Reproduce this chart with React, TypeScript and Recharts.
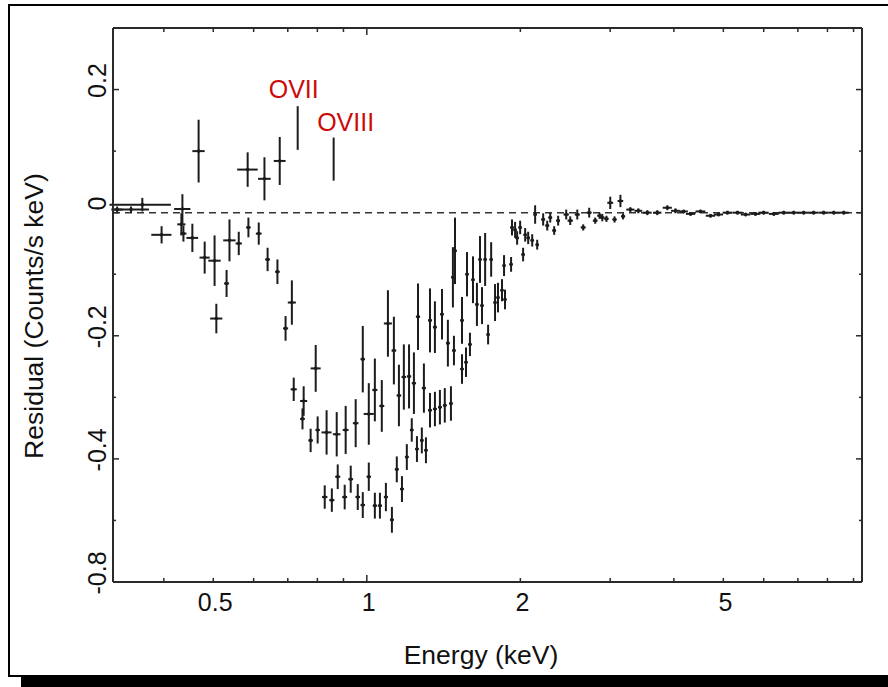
import React from 'react';
import { ScatterChart, Scatter, XAxis, YAxis, ErrorBar, ReferenceLine } from 'recharts';

// ---- data (energy in keV, residual in counts/s/keV) ----
const energyKeV = [
  // soft band
  0.324, 0.345, 0.363, 0.396, 0.433, 0.435, 0.437, 0.455, 0.468, 0.481, 0.503, 0.507,
  0.531, 0.538, 0.561, 0.584, 0.586, 0.614, 0.630, 0.639, 0.668, 0.675, 0.693, 0.713,
  // upper trough
  0.719, 0.748, 0.752, 0.776, 0.794, 0.801, 0.834, 0.873, 0.909, 0.951, 0.982, 1.009,
  1.037, 1.070, 1.100, 1.130, 1.156, 1.182, 1.210, 1.237, 1.260, 1.294, 1.330, 1.360,
  1.404, 1.442, 1.482, 1.330, 1.360, 1.391, 1.422, 1.462, 1.537, 1.565, 1.593,
  // lower trough
  0.827, 0.854, 0.877, 0.905, 0.930, 0.960, 0.982, 1.009, 1.037, 1.061, 1.090, 1.120,
  1.145, 1.172, 1.198, 1.225, 1.254, 1.282, 1.306,
  // recovery
  1.489, 1.475, 1.537, 1.572, 1.615, 1.644, 1.667, 1.682, 1.706, 1.729, 1.753, 1.784,
  1.808, 1.841, 1.858, 1.866, 1.918, 1.926, 1.953, 1.971, 1.998, 2.025, 2.044, 2.072,
  2.110, 2.138, 2.158, 2.217, 2.258, 2.289, 2.330, 2.372, 2.460, 2.505, 2.586, 2.656,
  2.729, 2.804, 2.860, 2.895, 2.950, 3.001, 3.060, 3.142, 3.180,
  // hard tail
  3.286, 3.407, 3.548, 3.711, 3.883, 4.029, 4.180, 4.313, 4.510, 4.719, 4.893, 5.094,
  5.329, 5.530, 5.781, 5.997, 6.280, 6.567, 6.871, 7.187, 7.516, 7.865, 8.232, 8.611,
];

const residual = [
  0.005, 0.005, 0.013, -0.036, -0.019, 0.006, -0.034, -0.041, 0.100, -0.073, -0.078, -0.172,
  -0.115, -0.045, -0.050, 0.070, -0.024, -0.034, 0.055, -0.076, -0.096, 0.084, -0.188, -0.146,
  -0.287, -0.335, -0.306, -0.370, -0.253, -0.353, -0.357, -0.360, -0.353, -0.342, -0.238, -0.327,
  -0.288, -0.314, -0.180, -0.224, -0.297, -0.267, -0.266, -0.277, -0.169, -0.285, -0.175, -0.186,
  -0.165, -0.212, -0.224, -0.321, -0.319, -0.316, -0.313, -0.310, -0.254, -0.243, -0.214,
  -0.462, -0.467, -0.429, -0.462, -0.433, -0.462, -0.475, -0.429, -0.476, -0.476, -0.462, -0.499,
  -0.417, -0.449, -0.397, -0.353, -0.384, -0.370, -0.386,
  -0.062, -0.105, -0.175, -0.100, -0.109, -0.149, -0.076, -0.151, -0.076, -0.198, -0.076, -0.146,
  -0.138, -0.126, -0.086, -0.141, -0.084, -0.024, -0.028, -0.041, -0.024, -0.068, -0.036, -0.041,
  -0.045, -0.003, -0.052, -0.011, -0.021, -0.008, -0.029, -0.013, -0.003, -0.013, -0.003, -0.024,
  0.000, -0.013, -0.005, -0.008, -0.010, 0.016, -0.011, 0.019, -0.006,
  0.005, 0.003, 0.000, 0.000, 0.008, 0.003, 0.002, -0.002, 0.002, -0.005, -0.003, 0.000,
  0.000, -0.003, -0.002, 0.000, -0.002, 0.000, 0.000, 0.000, 0.000, 0.000, 0.000, 0.000,
];

const energyErr = [
  0.008, 0.029, 0.050, 0.018, 0.008, 0.016, 0.006, 0.012, 0.013, 0.011, 0.014, 0.014,
  0.006, 0.015, 0.008, 0.027, 0.006, 0.008, 0.018, 0.007, 0.007, 0.018, 0.008, 0.013,
  0.010, 0.008, 0.012, 0.008, 0.018, 0.008, 0.019, 0.015, 0.012, 0.012, 0.010, 0.023,
  0.012, 0.012, 0.020, 0.012, 0.012, 0.012, 0.012, 0.012, 0.012, 0.012, 0.012, 0.012,
  0.012, 0.012, 0.012, 0.012, 0.012, 0.012, 0.012, 0.012, 0.012, 0.012, 0.012,
  0.010, 0.010, 0.010, 0.010, 0.010, 0.010, 0.010, 0.010, 0.010, 0.010, 0.010, 0.010,
  0.010, 0.010, 0.010, 0.010, 0.010, 0.010, 0.010,
  0.012, 0.012, 0.012, 0.012, 0.012, 0.012, 0.012, 0.012, 0.012, 0.012, 0.012, 0.012,
  0.012, 0.012, 0.012, 0.012, 0.012, 0.015, 0.015, 0.015, 0.015, 0.015, 0.015, 0.015,
  0.015, 0.015, 0.015, 0.020, 0.020, 0.020, 0.020, 0.020, 0.030, 0.030, 0.030, 0.030,
  0.030, 0.030, 0.030, 0.030, 0.030, 0.040, 0.030, 0.040, 0.030,
  0.060, 0.060, 0.070, 0.070, 0.080, 0.080, 0.080, 0.090, 0.100, 0.100, 0.100, 0.110,
  0.120, 0.120, 0.130, 0.140, 0.140, 0.150, 0.160, 0.170, 0.170, 0.180, 0.190, 0.200,
];

const residualErr = [
  0.005, 0.005, 0.011, 0.014, 0.018, 0.024, 0.013, 0.023, 0.051, 0.026, 0.041, 0.024,
  0.022, 0.034, 0.019, 0.028, 0.016, 0.018, 0.035, 0.019, 0.020, 0.039, 0.020, 0.036,
  0.019, 0.017, 0.024, 0.019, 0.038, 0.022, 0.036, 0.036, 0.039, 0.039, 0.054, 0.050,
  0.051, 0.042, 0.054, 0.055, 0.050, 0.053, 0.052, 0.050, 0.054, 0.040, 0.052, 0.042,
  0.041, 0.038, 0.024, 0.028, 0.028, 0.028, 0.028, 0.028, 0.024, 0.024, 0.019,
  0.019, 0.019, 0.020, 0.020, 0.022, 0.021, 0.021, 0.023, 0.021, 0.021, 0.023, 0.021,
  0.021, 0.021, 0.021, 0.019, 0.021, 0.021, 0.021,
  0.054, 0.049, 0.038, 0.036, 0.038, 0.035, 0.038, 0.030, 0.043, 0.016, 0.028, 0.030,
  0.024, 0.018, 0.017, 0.016, 0.012, 0.013, 0.013, 0.011, 0.011, 0.011, 0.011, 0.010,
  0.010, 0.015, 0.008, 0.010, 0.008, 0.008, 0.007, 0.008, 0.008, 0.007, 0.008, 0.005,
  0.008, 0.005, 0.005, 0.006, 0.005, 0.010, 0.005, 0.010, 0.005,
  0.004, 0.004, 0.004, 0.004, 0.004, 0.004, 0.003, 0.003, 0.003, 0.003, 0.003, 0.003,
  0.003, 0.003, 0.003, 0.003, 0.003, 0.003, 0.003, 0.003, 0.003, 0.003, 0.003, 0.003,
];

// ---- axes ----
const xDomain = [0.318, 9.35];
const yDomain = [-0.6, 0.3];
const xMajorTicks = [0.5, 1, 2, 5];
const xMajorLabels = ['0.5', '1', '2', '5'];
const xMinorTicks = [0.4, 0.6, 0.7, 0.8, 0.9, 3, 4, 6, 7, 8, 9];
const yMajorTicks = [0.2, 0, -0.2, -0.4, -0.6];
const yMajorLabels = ['0.2', '0', '-0.2', '-0.4', '-0.8'];
const yMinorTicks = [0.3, 0.1, -0.1, -0.3, -0.5];

// ---- line annotations ----
const lineNames = ['OVII', 'OVIII'];
const lineEnergy = [0.732, 0.861];
const lineLow = [0.102, 0.052];
const lineHigh = [0.173, 0.122];
const lineLabelEnergy = [0.719, 0.909];
const lineLabelResidual = [0.186, 0.133];

const points = energyKeV.map((E, i) => ({ E, R: residual[i], eE: energyErr[i], eR: residualErr[i] }));
const lineLabels = lineNames.map((label, i) => ({ E: lineLabelEnergy[i], R: lineLabelResidual[i], label }));

const xTicks = [...xMinorTicks, ...xMajorTicks].sort((a, b) => a - b);
const yTicks = [...yMinorTicks, ...yMajorTicks].sort((a, b) => a - b);

const AX = '#2a2a2a';
const INK = '#1c1c1c';
const FONT = '"Liberation Sans", Arial, Helvetica, sans-serif';

function BottomTick(props: any) {
  const { x, y, payload } = props;
  const v = payload.value;
  const i = xMajorTicks.indexOf(v);
  const len = v === 1 ? 7 : 4;
  return (
    <g>
      <line x1={x} x2={x} y1={y} y2={y - len} stroke={AX} strokeWidth={1.5} />
      {i >= 0 ? (
        <text x={x + 2} y={y + 29} textAnchor="middle" fontSize={25} fontFamily={FONT} fill="#111">
          {xMajorLabels[i]}
        </text>
      ) : null}
    </g>
  );
}

function TopTick(props: any) {
  const { x, y, payload } = props;
  const len = payload.value === 1 ? 7 : 4;
  return <line x1={x} x2={x} y1={y} y2={y + len} stroke={AX} strokeWidth={1.5} />;
}

function LeftTick(props: any) {
  const { x, y, payload } = props;
  const v = payload.value;
  const i = yMajorTicks.findIndex((t) => Math.abs(t - v) < 1e-9);
  const len = i >= 0 ? 6 : 3;
  const tx = x - 7;
  const ty = y - 9;
  return (
    <g>
      <line x1={x} x2={x + len} y1={y} y2={y} stroke={AX} strokeWidth={1.5} />
      {i >= 0 ? (
        <text
          x={tx}
          y={ty}
          textAnchor="middle"
          fontSize={25}
          fontFamily={FONT}
          fill="#111"
          transform={`rotate(-90, ${tx}, ${ty})`}
        >
          {yMajorLabels[i]}
        </text>
      ) : null}
    </g>
  );
}

function RightTick(props: any) {
  const { x, y, payload } = props;
  const v = payload.value;
  const major = yMajorTicks.some((t) => Math.abs(t - v) < 1e-9);
  const len = major ? 6 : 3;
  return <line x1={x} x2={x - len} y1={y} y2={y} stroke={AX} strokeWidth={1.5} />;
}

function Dot(props: any) {
  const { cx, cy } = props;
  if (cx == null || cy == null) return null;
  return <circle cx={cx} cy={cy} r={1.8} fill={INK} />;
}

function LineLabel(props: any) {
  const { cx, cy, payload } = props;
  if (cx == null || cy == null) return null;
  return (
    <text x={cx} y={cy} textAnchor="middle" fontSize={25} fontFamily={FONT} fill="#cc0a0a">
      {payload.label}
    </text>
  );
}

export default function App() {
  return (
    <div
      style={{
        position: 'absolute',
        left: 0,
        top: 0,
        width: 888,
        height: 687,
        background: '#fff',
        overflow: 'hidden',
        fontFamily: FONT,
      }}
    >
      {/* outer frame with shadow */}
      <div
        style={{
          position: 'absolute',
          left: 8,
          top: 4,
          width: 1000,
          height: 673,
          boxSizing: 'border-box',
          border: '2px solid #000',
        }}
      />
      <div style={{ position: 'absolute', left: 21, top: 677, width: 1000, height: 10, background: '#000' }} />

      <div style={{ position: 'absolute', left: 0, top: 0 }}>
        <ScatterChart width={888} height={687} margin={{ top: 27, right: 25, bottom: 104, left: 112 }}>
          <XAxis
            xAxisId="b"
            dataKey="E"
            type="number"
            scale="log"
            domain={xDomain}
            allowDataOverflow
            ticks={xTicks}
            interval={0}
            height={1}
            tickSize={0}
            tickMargin={0}
            tickLine={false}
            axisLine={{ stroke: AX, strokeWidth: 2 }}
            tick={<BottomTick />}
          />
          <XAxis
            xAxisId="t"
            orientation="top"
            dataKey="E"
            type="number"
            scale="log"
            domain={xDomain}
            allowDataOverflow
            ticks={xTicks}
            interval={0}
            height={1}
            tickSize={0}
            tickMargin={0}
            tickLine={false}
            axisLine={{ stroke: AX, strokeWidth: 2 }}
            tick={<TopTick />}
          />
          <YAxis
            yAxisId="l"
            dataKey="R"
            type="number"
            domain={yDomain}
            allowDataOverflow
            ticks={yTicks}
            interval={0}
            width={1}
            tickSize={0}
            tickMargin={0}
            tickLine={false}
            axisLine={{ stroke: AX, strokeWidth: 2 }}
            tick={<LeftTick />}
          />
          <YAxis
            yAxisId="r"
            orientation="right"
            dataKey="R"
            type="number"
            domain={yDomain}
            allowDataOverflow
            ticks={yTicks}
            interval={0}
            width={1}
            tickSize={0}
            tickMargin={0}
            tickLine={false}
            axisLine={{ stroke: AX, strokeWidth: 2 }}
            tick={<RightTick />}
          />
          <ReferenceLine xAxisId="b" yAxisId="l" y={0} stroke="#333" strokeWidth={1.5} strokeDasharray="7 5" />
          {lineEnergy.map((e, i) => (
            <ReferenceLine
              key={lineNames[i]}
              xAxisId="b"
              yAxisId="l"
              segment={[
                { x: e, y: lineLow[i] },
                { x: e, y: lineHigh[i] },
              ]}
              stroke={INK}
              strokeWidth={2}
            />
          ))}
          <Scatter
            xAxisId="b"
            yAxisId="l"
            data={points}
            shape={<Dot />}
            isAnimationActive={false}
          >
            <ErrorBar dataKey="eR" direction="y" width={0} stroke={INK} strokeWidth={2} />
            <ErrorBar dataKey="eE" direction="x" width={0} stroke={INK} strokeWidth={2} />
          </Scatter>
          <Scatter
            xAxisId="b"
            yAxisId="l"
            data={lineLabels}
            shape={<LineLabel />}
            isAnimationActive={false}
          />
        </ScatterChart>
      </div>

      {/* axis titles */}
      <div
        style={{
          position: 'absolute',
          left: 331,
          top: 642,
          width: 300,
          height: 26,
          lineHeight: '26px',
          fontSize: 26.5,
          textAlign: 'center',
          color: '#111',
          whiteSpace: 'nowrap',
        }}
      >
        Energy (keV)
      </div>
      <div
        style={{
          position: 'absolute',
          left: 34 - 200,
          top: 316 - 13,
          width: 400,
          height: 26,
          lineHeight: '26px',
          fontSize: 26.5,
          textAlign: 'center',
          color: '#111',
          whiteSpace: 'nowrap',
          transform: 'rotate(-90deg)',
        }}
      >
        Residual (Counts/s keV)
      </div>
    </div>
  );
}
